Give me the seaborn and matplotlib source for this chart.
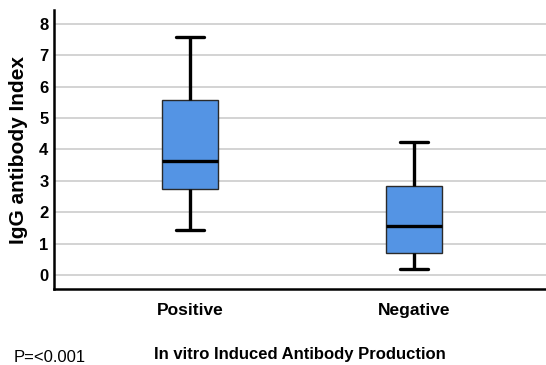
import matplotlib
matplotlib.use("Agg")
import matplotlib.pyplot as plt
import seaborn as sns
import pandas as pd

# Data (five-number summaries: min, Q1, median, Q3, max)
categories = ["Positive", "Negative"]
positive_values = [1.44, 2.75, 3.64, 5.58, 7.59]
negative_values = [0.20, 0.70, 1.57, 2.82, 4.23]
y_ticks = [0, 1, 2, 3, 4, 5, 6, 7, 8]

df = pd.DataFrame({
    "group": [categories[0]] * len(positive_values) + [categories[1]] * len(negative_values),
    "value": positive_values + negative_values,
})

sns.set_theme(style="white")
bold_fam = ["Liberation Sans", "DejaVu Sans"]
plt.rcParams["font.family"] = ["Liberation Sans", "DejaVu Sans"]
plt.rcParams["text.color"] = "black"
plt.rcParams["axes.labelcolor"] = "black"
plt.rcParams["xtick.color"] = "black"
plt.rcParams["ytick.color"] = "black"

fig = plt.figure(figsize=(5.46, 3.65), dpi=100)
ax = fig.add_axes([54 / 546, 1 - 289 / 365, 1 - 54 / 546, (289 - 10) / 365])

sns.boxplot(
    data=df, x="group", y="value", order=categories, ax=ax,
    width=0.25, whis=(0, 100), showfliers=False,
    color="#5494E4", saturation=1,
    boxprops=dict(facecolor="#5494E4", edgecolor="#2a2a2a", linewidth=1.0),
    whiskerprops=dict(color="black", linewidth=2.4),
    capprops=dict(color="black", linewidth=2.4),
    medianprops=dict(color="black", linewidth=2.4),
    zorder=3,
)

ax.set_ylim(-0.45, 8.45)
ax.set_xlim(-0.609, 1.587)
ax.set_yticks(y_ticks)
ax.yaxis.grid(True, color="#d0d0d0", linewidth=1.3, zorder=0)
ax.xaxis.grid(False)
ax.set_axisbelow(True)

for s in ["top", "right"]:
    ax.spines[s].set_visible(False)
for s in ["left", "bottom"]:
    ax.spines[s].set_color("black")
    ax.spines[s].set_linewidth(1.8)

ax.tick_params(axis="y", length=0, pad=4, labelcolor="black")
ax.tick_params(axis="x", length=0, pad=10, labelcolor="black")
for lab in ax.get_yticklabels():
    lab.set_fontfamily(bold_fam)
    lab.set_fontweight("bold")
    lab.set_fontsize(12)
for lab in ax.get_xticklabels():
    lab.set_fontfamily(bold_fam)
    lab.set_fontweight("bold")
    lab.set_fontsize(12.5)

ax.set_ylabel("IgG antibody Index", fontsize=15, fontweight="bold", family=bold_fam,
              color="black")
ax.yaxis.set_label_coords(-0.052, 0.5)
ax.set_xlabel("In vitro Induced Antibody Production", fontsize=12,
              fontweight="bold", family=bold_fam, labelpad=21, color="black")

fig.text(14 / 546, 1 - 357 / 365, "P=<0.001", fontsize=12, va="center", ha="left",
         color="black", family=["Liberation Sans", "DejaVu Sans"])

fig.savefig("out.png", dpi=100)
